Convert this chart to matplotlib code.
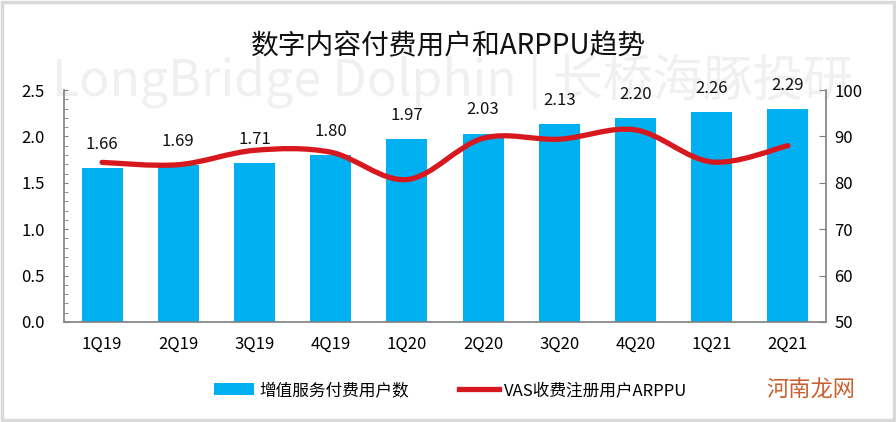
import matplotlib
matplotlib.use("Agg")
import matplotlib.pyplot as plt
from matplotlib.path import Path
from matplotlib.patches import PathPatch, Patch
from matplotlib.lines import Line2D
from matplotlib.ticker import MultipleLocator, FormatStrFormatter
import numpy as np

plt.rcParams['font.family'] = ['Noto Sans CJK SC', 'DejaVu Sans']

quarters = ['1Q19', '2Q19', '3Q19', '4Q19', '1Q20', '2Q20', '3Q20', '4Q20', '1Q21', '2Q21']
paid_users = [1.66, 1.69, 1.71, 1.80, 1.97, 2.03, 2.13, 2.20, 2.26, 2.29]
arppu = [84.4, 83.9, 87.0, 86.6, 80.7, 89.6, 89.4, 91.4, 84.5, 88.0]

bar_color = '#00b0f0'
line_color = '#d7191f'

fig = plt.figure(figsize=(8.96, 4.22), dpi=100)
ax = fig.add_axes([0.0714, 0.237, 0.8505, 0.5497])
ax.set_facecolor('none')
ax2 = ax.twinx()
ax2.set_facecolor('none')

# faint watermark behind the chart (drawn before the axes)
fig.text(0.505, 0.805, 'LongBridge Dolphin | 长桥海豚投研', ha='center', va='center',
         fontsize=36, color='#f0f0f0', zorder=-1)

x = np.arange(len(quarters))
ax.bar(x, paid_users, width=0.54, color=bar_color, zorder=2)
for xi, v in zip(x, paid_users):
    ax.annotate(f'{v:.2f}', (xi, v), xytext=(0, 11), textcoords='offset points',
                ha='center', va='bottom', fontsize=12, color='#111111')

ax.set_xlim(-0.5, len(quarters) - 0.5)
ax.set_ylim(0, 2.5)
ax.yaxis.set_major_locator(MultipleLocator(0.5))
ax.yaxis.set_minor_locator(MultipleLocator(0.1))
ax.yaxis.set_major_formatter(FormatStrFormatter('%.1f'))
ax.set_xticks(x)
ax.set_xticklabels(quarters)
ax.tick_params(axis='y', which='both', direction='in', length=3, color='#7f7f7f',
               labelsize=12, pad=14)
ax.tick_params(axis='x', length=0, labelsize=12, pad=10)

ax2.set_ylim(50, 100)
ax2.yaxis.set_major_locator(MultipleLocator(10))
ax2.tick_params(axis='y', direction='in', length=5, color='#7f7f7f', labelsize=12, pad=6)

for a in (ax, ax2):
    a.spines['top'].set_visible(False)
    for s in ('left', 'right', 'bottom'):
        a.spines[s].set_color('#7f7f7f')
        a.spines[s].set_linewidth(1.2)
ax.spines['right'].set_visible(False)
ax2.spines['left'].set_visible(False)
ax2.spines['bottom'].set_visible(False)

# smoothed line through the ARPPU points (bezier, like a spreadsheet smooth line)
pts = np.column_stack([x, arppu]).astype(float)
verts = [tuple(pts[0])]
codes = [Path.MOVETO]
n = len(pts)
for i in range(n - 1):
    p0 = pts[max(i - 1, 0)]
    p1 = pts[i]
    p2 = pts[i + 1]
    p3 = pts[min(i + 2, n - 1)]
    c1 = p1 + (p2 - p0) / 6.0
    c2 = p2 - (p3 - p1) / 6.0
    verts += [tuple(c1), tuple(c2), tuple(p2)]
    codes += [Path.CURVE4] * 3
ax2.add_patch(PathPatch(Path(verts, codes), facecolor='none', edgecolor=line_color,
                        lw=3.8, capstyle='round', joinstyle='round', zorder=3))

fig.suptitle('数字内容付费用户和ARPPU趋势', x=0.5, y=0.925, fontsize=20, color='#111111')

handles = [Patch(facecolor=bar_color, edgecolor='none'),
           Line2D([0], [0], color=line_color, lw=3.8)]
fig.legend(handles, ['增值服务付费用户数', 'VAS收费注册用户ARPPU'], loc='center',
           bbox_to_anchor=(0.503, 0.075), ncol=2, frameon=False, fontsize=12,
           handlelength=2.4, handleheight=0.8, columnspacing=3.0, handletextpad=0.3)

fig.text(0.905, 0.075, '河南龙网', ha='center', va='center', fontsize=16, color='#c8602f')

# light frame around the picture
fig.patches.append(plt.Rectangle((0.002, 0.004), 0.996, 0.992, transform=fig.transFigure,
                                 fill=False, edgecolor='#d9d9d9', lw=2.5))

fig.savefig('out.png', dpi=100)
